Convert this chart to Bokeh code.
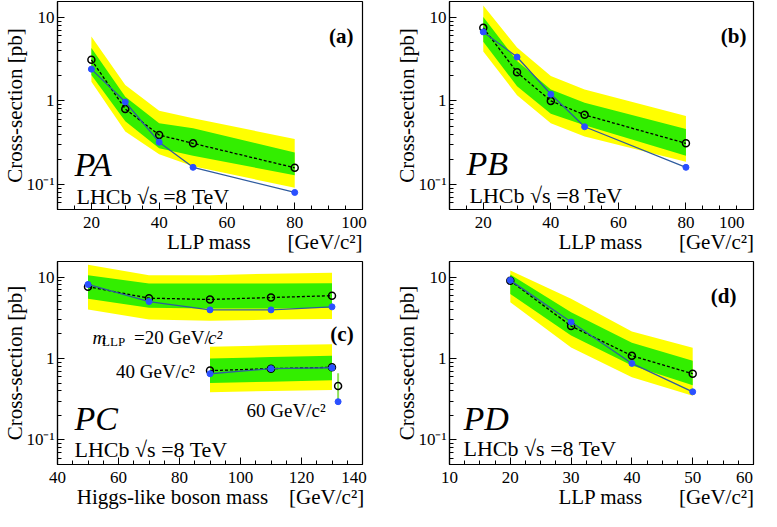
import numpy as np
from bokeh.plotting import figure
from bokeh.layouts import column, row
from bokeh.models import FixedTicker, Label, Range1d
from bokeh.embed import file_html
from bokeh.resources import INLINE

FONT = "Liberation Serif"
YELLOW = "#FFFF00"
GREEN = "#33EE00"
BLUE = "#2a50ff"
LINEBLUE = "#2f5c9e"
NB = "\u00a0"

# ---------------- data ----------------
# Panel (a) PA
a_mass = [20, 30, 40, 50, 80]
a_exp = [3.1, 0.80, 0.39, 0.31, 0.158]
a_obs = [2.4, 0.97, 0.32, 0.16, 0.080]
a_y_lo = [1.7, 0.43, 0.23, 0.165, 0.091]
a_y_hi = [5.9, 1.55, 0.76, 0.62, 0.35]
a_g_lo = [2.04, 0.57, 0.27, 0.22, 0.129]
a_g_hi = [4.3, 1.12, 0.54, 0.47, 0.24]

# Panel (b) PB
b_mass = [20, 30, 40, 50, 80]
b_exp = [7.5, 2.2, 1.0, 0.68, 0.31]
b_obs = [6.7, 3.35, 1.2, 0.49, 0.16]
b_y_lo = [3.9, 1.17, 0.54, 0.375, 0.186]
b_y_hi = [13.9, 4.35, 1.98, 1.37, 0.66]
b_g_lo = [5.1, 1.5, 0.70, 0.51, 0.22]
b_g_hi = [10.1, 3.0, 1.37, 0.95, 0.46]

# Panel (c) PC, m_LLP = 20, 40, 60 GeV/c^2
c20_mass = [50, 70, 90, 110, 130]
c20_exp = [7.6, 5.5, 5.3, 5.6, 5.9]
c20_obs = [8.1, 5.0, 3.95, 3.95, 4.3]
c20_y_lo = [4.0, 3.0, 2.9, 3.0, 3.06]
c20_y_hi = [14.1, 10.5, 10.5, 11.0, 11.3]
c20_g_lo = [5.4, 4.2, 4.1, 4.1, 4.2]
c20_g_hi = [10.5, 8.3, 8.3, 8.3, 8.4]

c40_mass = [90, 110, 130]
c40_exp = [0.71, 0.75, 0.78]
c40_obs = [0.65, 0.75, 0.77]
c40_y_lo = [0.385, 0.40, 0.41]
c40_y_hi = [1.39, 1.45, 1.5]
c40_g_lo = [0.50, 0.52, 0.54]
c40_g_hi = [1.0, 1.04, 1.08]

c60_mass = [132]
c60_exp = [0.46]
c60_obs = [0.295]
c60_lo = [0.30]
c60_hi = [0.66]

# Panel (d) PD
d_mass = [20, 30, 40, 50]
d_exp = [9.0, 2.5, 1.08, 0.65]
d_obs = [9.1, 2.8, 0.87, 0.39]
d_y_lo = [4.9, 1.36, 0.59, 0.35]
d_y_hi = [12.0, 5.4, 2.15, 1.35]
d_g_lo = [6.2, 1.92, 0.82, 0.47]
d_g_hi = [10.7, 3.7, 1.56, 0.94]

Y_TICKS = [0.1, 1, 10]
Y_TICK_LABELS = {0.1: "10⁻¹", 1: "1", 10: "10"}
Y_MINOR = [0.05, 0.06, 0.07, 0.08, 0.09] + [k / 10 for k in range(2, 10)] + list(range(2, 10))

ab_xticks = [20, 40, 60, 80, 100]
ab_xminor = list(range(10, 101, 5))
c_xticks = [40, 60, 80, 100, 120, 140]
c_xminor = list(range(40, 141, 5))
d_xticks = [10, 20, 30, 40, 50, 60]
d_xminor = [10 + 2.5 * i for i in range(21)]

Y_TITLE = "Cross-section [pb]"
UNIT = "[GeV/c²]"


def txt(p, text, x, y, size, units="screen", style="normal", align="left",
        baseline="alphabetic", x_offset=0, y_offset=0):
    p.add_layout(Label(x=x, y=y, x_units=units, y_units=units, text=text,
                       text_font=FONT, text_font_size=f"{size}px",
                       text_font_style=style, text_align=align,
                       text_baseline=baseline, text_color="black",
                       x_offset=x_offset, y_offset=y_offset))


def make_fig(width, height, xr, xticks, xminor, bl, br, bt, bb, xtitle, last_pad):
    p = figure(width=width, height=height, x_range=Range1d(*xr),
               y_range=Range1d(0.05, 15.5), y_axis_type="log",
               output_backend="svg", toolbar_location=None,
               min_border_left=bl, min_border_right=br,
               min_border_top=bt, min_border_bottom=bb)
    p.grid.visible = False
    p.outline_line_color = "black"
    p.outline_line_width = 1.2
    p.background_fill_color = "white"
    p.border_fill_color = "white"
    p.xaxis.ticker = FixedTicker(ticks=xticks, minor_ticks=xminor)
    p.yaxis.ticker = FixedTicker(ticks=Y_TICKS, minor_ticks=Y_MINOR)
    p.yaxis.major_label_overrides = dict(Y_TICK_LABELS)
    last = xticks[-1]
    p.xaxis.major_label_overrides = {last: str(last) + NB * last_pad}
    for ax in (p.xaxis[0], p.yaxis[0]):
        ax.axis_line_color = "black"
        ax.axis_line_width = 1.2
        ax.major_tick_in = 7
        ax.major_tick_out = 0
        ax.minor_tick_in = 4
        ax.minor_tick_out = 0
        ax.major_tick_line_color = "black"
        ax.minor_tick_line_color = "black"
        ax.major_label_text_font = FONT
        ax.major_label_text_font_size = "17px"
        ax.major_label_text_color = "black"
        ax.major_label_standoff = 3
        ax.axis_label_text_font = FONT
        ax.axis_label_text_font_style = "normal"
        ax.axis_label_text_color = "black"
    p.yaxis.axis_label_standoff = -4
    p.xaxis.axis_label_standoff = -5
    p.yaxis.axis_label = Y_TITLE
    p.yaxis.axis_label_text_font_size = "21px"
    # x title is centred by Bokeh; leading no-break spaces push the visible
    # text to the right end of the axis, as in the original
    p.xaxis.axis_label = xtitle
    p.xaxis.axis_label_text_font_size = "21px"
    return p


def draw_set(p, mass, exp, obs, ylo, yhi, glo, ghi):
    p.varea(x=mass, y1=ylo, y2=yhi, fill_color=YELLOW)
    p.varea(x=mass, y1=glo, y2=ghi, fill_color=GREEN)
    p.line(mass, exp, line_dash="3 2", line_color="black", line_width=1.3)
    p.scatter(mass, exp, marker="circle", size=7, fill_color=None,
              line_color="black", line_width=1.5)
    p.line(mass, obs, line_color=LINEBLUE, line_width=1.3)
    p.scatter(mass, obs, marker="circle", size=6, fill_color=BLUE,
              line_color=BLUE)


def decorate(p, name, tag, tag_xy, name_xy, lhcb_xy, tag_in_data=False):
    txt(p, name, name_xy[0], name_xy[1], 34, style="italic")
    txt(p, "LHCb √s =8 TeV", lhcb_xy[0], lhcb_xy[1], 22)
    txt(p, tag, tag_xy[0], tag_xy[1], 21, units="data" if tag_in_data else "screen",
        style="bold", align="right")


H1, H2 = 256, 255
BOT = 46
TOP2 = 5
LLP_TITLE = NB * 21 + "LLP mass" + NB * 7 + UNIT
HIGGS_TITLE = NB * 4 + "Higgs-like boson mass" + NB * 4 + UNIT

# ---------------- panel (a) ----------------
fa_w, fa_h = 309, H1 - 1 - BOT
pa = make_fig(392, H1, (10, 100), ab_xticks, ab_xminor, 53, 392 - 53 - fa_w, 1,
              BOT, LLP_TITLE, 4)
draw_set(pa, a_mass, a_exp, a_obs, a_y_lo, a_y_hi, a_g_lo, a_g_hi)
decorate(pa, "PA", "(a)", (fa_w - 13, fa_h - 35), (17, 45), (19, 13))

# ---------------- panel (b) ----------------
fb_w, fb_h = 308, H1 - 1 - BOT
pb = make_fig(369, H1, (10, 100), ab_xticks, ab_xminor, 53, 369 - 53 - fb_w, 1,
              BOT, LLP_TITLE, 4)
draw_set(pb, b_mass, b_exp, b_obs, b_y_lo, b_y_hi, b_g_lo, b_g_hi)
decorate(pb, "PB", "(b)", (fb_w - 11, fb_h - 35), (17, 46), (20, 14))

# ---------------- panel (c) ----------------
fc_w, fc_h = 307, H2 - TOP2 - BOT
pc = make_fig(392, H2, (40, 140), c_xticks, c_xminor, 55, 392 - 55 - fc_w, TOP2,
              BOT, HIGGS_TITLE, 4)
draw_set(pc, c20_mass, c20_exp, c20_obs, c20_y_lo, c20_y_hi, c20_g_lo, c20_g_hi)
draw_set(pc, c40_mass, c40_exp, c40_obs, c40_y_lo, c40_y_hi, c40_g_lo, c40_g_hi)
pc.segment(x0=c60_mass, y0=c60_lo, x1=c60_mass, y1=c60_hi, line_color="#8fe05a", line_width=2)
pc.scatter(c60_mass, c60_exp, marker="circle", size=7, fill_color=None,
           line_color="black", line_width=1.5)
pc.scatter(c60_mass, c60_obs, marker="circle", size=6, fill_color=BLUE, line_color=BLUE)
decorate(pc, "PC", "(c)", (137.1, 1.98), (17, 46), (17, 15), tag_in_data=True)
# series labels in panel (c)
txt(pc, "m", 51.5, 1.81, 19, units="data", style="italic")
txt(pc, "LLP", 54.6, 1.81, 13, units="data", y_offset=-4)
txt(pc, "=20 GeV/", 65.1, 1.81, 19, units="data")
txt(pc, "c²", 65.1, 1.81, 19, units="data", style="italic", x_offset=74)
txt(pc, "40 GeV/c²", 85.1, 0.70, 19, units="data", align="right")
txt(pc, "60 GeV/c²", 127.9, 0.23, 19, units="data", align="right")

# ---------------- panel (d) ----------------
fd_w, fd_h = 305, H2 - TOP2 - BOT
pd_ = make_fig(369, H2, (10, 60), d_xticks, d_xminor, 56, 369 - 56 - fd_w, TOP2,
               BOT, LLP_TITLE, 2)
draw_set(pd_, d_mass, d_exp, d_obs, d_y_lo, d_y_hi, d_g_lo, d_g_hi)
decorate(pd_, "PD", "(d)", (fd_w - 18, fd_h - 35), (14, 46), (14, 16))

layout = column(row(pa, pb), row(pc, pd_))
open("out.html", "w").write(file_html(layout, INLINE))
